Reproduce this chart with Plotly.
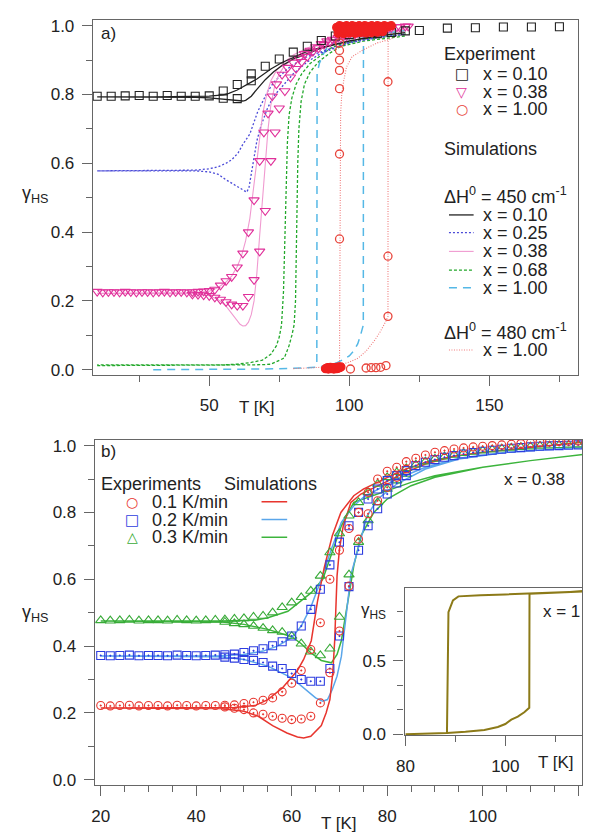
import plotly.graph_objects as go

W, H = 592, 840

# ================= Panel a data =================
# Experiment x = 0.10 (squares)
a_sq_T = [10, 15, 20, 25, 30, 35, 40, 45, 50, 55, 55, 60, 60, 65, 65, 70, 75, 80, 85, 90, 95, 100,
          105, 110, 115, 120, 125, 135, 145, 155, 165, 175]
a_sq_g = [0.795, 0.795, 0.796, 0.797, 0.795, 0.797, 0.795, 0.795, 0.796, 0.81, 0.789, 0.829, 0.788,
          0.86, 0.84, 0.882, 0.903, 0.923, 0.94, 0.957, 0.97, 0.974, 0.975, 0.977, 0.98, 0.985, 0.986,
          0.993, 0.994, 0.996, 0.996, 0.997]

# Experiment x = 0.38 (triangles), two branches
a_triL_T = [10, 12, 14, 16, 18, 20, 22, 24, 26, 28, 30, 32, 34, 36, 38, 40, 42, 44, 46, 48,
            50, 52, 54, 56, 58, 60, 62, 64, 66, 68,
            69.5, 71, 72.5, 74, 76, 78, 80, 82, 84, 86, 88, 90, 92, 94, 96, 98, 100,
            103, 106, 109, 112, 115, 118, 121]
a_triL_g = [0.227, 0.225, 0.226, 0.226, 0.225, 0.227, 0.226, 0.225, 0.226, 0.226, 0.225, 0.226, 0.227,
            0.225, 0.226, 0.226, 0.225, 0.226, 0.227, 0.228,
            0.229, 0.233, 0.245, 0.258, 0.27, 0.298, 0.338, 0.40, 0.493, 0.607,
            0.69, 0.745, 0.795, 0.83, 0.858, 0.878, 0.893, 0.905, 0.918, 0.928, 0.938, 0.947, 0.955,
            0.96, 0.965, 0.97, 0.974,
            0.979, 0.984, 0.988, 0.991, 0.994, 0.996, 0.998]
a_triR_T = [44, 46, 48, 50, 52, 54, 56, 58, 60, 62, 64, 66, 68, 70, 72,
            73.5, 75, 77, 79, 81, 83, 85, 87, 89, 91, 93, 95, 97, 99, 102, 105, 108, 111, 114, 117, 120]
a_triR_g = [0.219, 0.218, 0.217, 0.215, 0.21, 0.204, 0.197, 0.19, 0.186, 0.186, 0.212, 0.261, 0.344,
            0.462, 0.607,
            0.69, 0.76, 0.81, 0.85, 0.875, 0.895, 0.91, 0.925, 0.935, 0.945, 0.952, 0.96, 0.965, 0.97,
            0.975, 0.98, 0.985, 0.99, 0.993, 0.996, 0.998]

# Experiment x = 1.00 (circles): dense clusters at the top and bottom, points on the jumps
a_ci_top_T = [95.5, 96, 96.5, 97, 97.5, 98, 98.5, 99, 99.5, 100, 100.5, 101, 101.5, 102, 102.5, 103,
              103.5, 104, 104.5, 105, 105.5, 106, 106.5, 107, 107.5, 108, 108.5, 109, 109.5, 110,
              110.5, 111, 111.5, 112, 112.5, 113, 114, 115,
              96, 97, 98, 99, 100, 101, 102, 103, 104, 105, 106, 107, 108, 109, 110, 111, 112,
              96.5, 97.5, 98.5, 99.5, 100.5, 101.5, 102.5, 103.5, 104.5, 105.5, 106.5, 107.5, 108.5,
              109.5, 110.5, 111.5]
a_ci_top_g = [0.995, 0.99, 1.0, 0.993, 0.998, 0.99, 0.996, 1.0, 0.992, 0.997, 0.99, 1.0, 0.994, 0.998,
              0.99, 0.996, 1.0, 0.992, 0.997, 0.99, 1.0, 0.994, 0.998, 0.991, 0.996, 1.0, 0.993, 0.997,
              0.99, 1.0, 0.995, 0.998, 0.991, 0.996, 1.0, 0.994, 0.998, 1.0,
              0.978, 0.982, 0.977, 0.981, 0.979, 0.983, 0.978, 0.982, 0.98, 0.984, 0.979, 0.983, 0.98,
              0.984, 0.981, 0.985, 0.983,
              0.986, 0.985, 0.987, 0.986, 0.988, 0.986, 0.987, 0.988, 0.986, 0.989, 0.987, 0.988,
              0.989, 0.988, 0.99, 0.989]
a_ci_jump_T = [96.5, 96.5, 96.5, 96.5, 96.5, 96.5, 96.5, 113.8, 113.8, 113.8,
               100.4, 106, 107.8, 109.5, 111.2, 113.1]
a_ci_jump_g = [0.95, 0.928, 0.9, 0.87, 0.817, 0.627, 0.38, 0.837, 0.33, 0.155,
               0.002, 0.005, 0.006, 0.006, 0.007, 0.012]
a_ci_bot_T = [91.5, 92, 92.5, 93, 93.5, 94, 94.5, 95, 95.5, 96, 96.5, 97, 92.25, 93.25, 94.25, 95.25,
              96.25]
a_ci_bot_g = [0.003, 0.004, 0.002, 0.005, 0.003, 0.004, 0.002, 0.005, 0.003, 0.004, 0.006, 0.008,
              0.006, 0.007, 0.006, 0.007, 0.008]

# Simulations dH0 = 450 cm-1 (lower branch then upper branch)
s010_lo_T = [10, 30, 45, 50, 55, 58, 60, 62, 63, 65, 67, 70, 73, 76, 80, 85, 90, 100, 110, 120]
s010_lo_g = [0.793, 0.793, 0.792, 0.79, 0.787, 0.784, 0.782, 0.781, 0.783, 0.795, 0.815, 0.843, 0.866,
             0.884, 0.903, 0.92, 0.935, 0.955, 0.97, 0.98]
s010_up_T = [120, 110, 100, 90, 85, 80, 76, 72, 70, 67, 65, 62, 60, 57, 55, 50, 45, 30, 10]
s010_up_g = [0.98, 0.97, 0.956, 0.937, 0.925, 0.906, 0.893, 0.874, 0.862, 0.845, 0.836, 0.822, 0.813,
             0.803, 0.799, 0.795, 0.794, 0.793, 0.793]

s025_lo_T = [10, 45, 50, 53.2, 56, 59.2, 61.5, 63.4, 64.2, 65, 66, 67, 68.5, 70.8, 73, 75.7, 80, 85, 90,
             100, 110, 120]
s025_lo_g = [0.578, 0.578, 0.575, 0.568, 0.552, 0.536, 0.523, 0.516, 0.53, 0.57, 0.62, 0.665, 0.71, 0.76,
             0.795, 0.82, 0.86, 0.895, 0.92, 0.95, 0.965, 0.975]
s025_up_T = [120, 110, 100, 90, 85, 81.4, 78, 75.7, 73, 70.8, 69, 67.3, 66, 64.5, 62, 60.3, 58, 56, 53.2,
             50, 45, 10]
s025_up_g = [0.975, 0.966, 0.952, 0.925, 0.91, 0.894, 0.875, 0.857, 0.835, 0.808, 0.78, 0.75, 0.72,
             0.685, 0.655, 0.63, 0.61, 0.6, 0.59, 0.584, 0.58, 0.578]

s038_lo_T = [10, 45, 50, 53, 56, 58, 60, 61, 62, 63, 64, 65, 66, 67, 68, 69, 70, 71, 72, 73.5, 75, 77,
             80, 85, 90, 100, 110, 120]
s038_lo_g = [0.222, 0.221, 0.215, 0.205, 0.185, 0.165, 0.142, 0.132, 0.127, 0.128, 0.138, 0.16, 0.2,
             0.28, 0.39, 0.5, 0.61, 0.7, 0.77, 0.83, 0.86, 0.885, 0.905, 0.93, 0.948, 0.97, 0.982, 0.99]
s038_up_T = [120, 110, 100, 90, 85, 80, 77, 74, 72, 70.5, 69, 67.5, 66, 64.5, 63, 61.5, 60, 58, 56, 53,
             50, 45, 10]
s038_up_g = [0.99, 0.982, 0.97, 0.95, 0.935, 0.915, 0.895, 0.87, 0.84, 0.8, 0.74, 0.64, 0.53, 0.44,
             0.375, 0.33, 0.3, 0.272, 0.255, 0.238, 0.228, 0.224, 0.222]

s068_lo_T = [10, 55, 60, 65, 70, 72, 76.8, 78.5, 79.5, 80.3, 80.8, 81, 81.3, 81.6, 82, 82.8, 84, 86, 89,
             93, 97, 105, 120]
s068_lo_g = [0.012, 0.012, 0.013, 0.014, 0.015, 0.016, 0.034, 0.07, 0.1, 0.13, 0.2, 0.32, 0.45, 0.6,
             0.7, 0.78, 0.83, 0.865, 0.895, 0.92, 0.94, 0.955, 0.97]
s068_up_T = [120, 105, 97, 93.4, 90, 86, 83, 81, 79.5, 78.5, 77.9, 77.3, 76.8, 76.5, 75.8, 75, 74, 72,
             69, 65, 60, 55, 10]
s068_up_g = [0.975, 0.96, 0.946, 0.935, 0.915, 0.89, 0.86, 0.83, 0.79, 0.74, 0.66, 0.45, 0.32, 0.226,
             0.13, 0.095, 0.07, 0.045, 0.028, 0.021, 0.016, 0.014, 0.014]

s100_lo_T = [30, 50, 70, 80, 88.4, 92, 95.5, 98, 100, 101.5, 103, 104, 105, 105.05, 110, 120]
s100_lo_g = [0.0, 0.0, 0.002, 0.004, 0.007, 0.012, 0.02, 0.03, 0.04, 0.054, 0.075, 0.1, 0.13, 0.965,
             0.975, 0.985]
s100_up_T = [120, 110, 105, 100, 95.5, 92, 90.9, 89.3, 88.5, 88.4]
s100_up_g = [0.985, 0.977, 0.97, 0.963, 0.955, 0.935, 0.92, 0.89, 0.86, 0.007]

# Simulation dH0 = 480 cm-1, x = 1.00
s480_lo_T = [80, 90, 96.5, 100, 103, 106, 109, 111, 113, 113.8, 113.85, 120]
s480_lo_g = [0.003, 0.007, 0.014, 0.022, 0.033, 0.054, 0.085, 0.11, 0.14, 0.155, 0.975, 0.985]
s480_up_T = [120, 114.5, 110, 105, 101, 99, 98, 97.3, 96.9, 96.5]
s480_up_g = [0.985, 0.96, 0.95, 0.93, 0.91, 0.88, 0.84, 0.8, 0.745, 0.014]

# ================= Panel b data =================
b_plat_T = [20, 22, 24, 26, 28, 30, 32, 34, 36, 38, 40, 42, 44, 46, 48]
b_rise_T = [50, 52, 54, 56, 58, 60, 62, 64, 66, 68, 70, 72, 74, 76, 78, 80, 82, 84, 86, 88, 90, 92, 94,
            96, 98, 100, 102, 104, 106, 108, 110, 112, 114, 116, 118, 120]
b_dip_T = [46, 48, 50, 52, 54, 56, 58, 60, 62, 64, 66, 68, 70, 72, 74, 76, 78, 80, 82, 84]

b_red_plat = [0.222, 0.221, 0.222, 0.223, 0.221, 0.222, 0.222, 0.221, 0.223, 0.222, 0.221, 0.222, 0.222,
              0.223, 0.224]
b_red_rise = [0.228, 0.232, 0.238, 0.245, 0.263, 0.289, 0.327, 0.39, 0.47, 0.6, 0.687, 0.752, 0.8, 0.86,
              0.9, 0.923, 0.935, 0.952, 0.962, 0.972, 0.98, 0.985, 0.99, 0.993, 0.996, 0.998, 1.0, 1.002,
              1.004, 1.006, 1.008, 1.01, 1.011, 1.012, 1.013, 1.014]
b_red_dip = [0.218, 0.214, 0.21, 0.2, 0.196, 0.19, 0.184, 0.18, 0.182, 0.19, 0.23, 0.32, 0.445, 0.58,
             0.72, 0.796, 0.835, 0.875, 0.905, 0.93]

b_blu_plat = [0.372, 0.371, 0.372, 0.373, 0.371, 0.372, 0.372, 0.371, 0.373, 0.372, 0.371, 0.372, 0.373,
              0.374, 0.376]
b_blu_rise = [0.381, 0.386, 0.392, 0.401, 0.413, 0.43, 0.46, 0.51, 0.57, 0.643, 0.711, 0.76, 0.8, 0.84,
              0.87, 0.895, 0.91, 0.925, 0.94, 0.95, 0.958, 0.965, 0.97, 0.975, 0.979, 0.983, 0.986, 0.989,
              0.992, 0.994, 0.996, 0.998, 0.999, 1.0, 1.001, 1.002]
b_blu_dip = [0.367, 0.364, 0.36, 0.357, 0.351, 0.34, 0.333, 0.318, 0.3, 0.295, 0.295, 0.333, 0.43, 0.578,
             0.687, 0.76, 0.811, 0.855, 0.888, 0.91]

b_grn_plat = [0.477, 0.476, 0.477, 0.478, 0.476, 0.477, 0.477, 0.476, 0.478, 0.477, 0.476, 0.477, 0.478,
              0.479, 0.481]
b_grn_rise = [0.483, 0.487, 0.49, 0.5, 0.516, 0.53, 0.546, 0.565, 0.61, 0.68, 0.737, 0.79, 0.83, 0.86,
              0.885, 0.905, 0.92, 0.932, 0.943, 0.952, 0.96, 0.967, 0.972, 0.977, 0.981, 0.985, 0.988,
              0.991, 0.993, 0.995, 0.997, 0.999, 1.0, 1.001, 1.002, 1.003]
b_grn_dip = [0.472, 0.468, 0.465, 0.46, 0.454, 0.447, 0.442, 0.43, 0.407, 0.383, 0.372, 0.392, 0.487,
             0.614, 0.711, 0.776, 0.83, 0.87, 0.895, 0.915]

# Simulations panel b
bs_red_lo_T = [20, 45, 50, 53, 56, 59, 61.2, 62.5, 64, 66.2, 67.2, 68, 68.6, 69, 69.5, 70, 70.8, 72.4,
               74.5, 76.6, 80, 83.4, 88, 93.8, 100, 110, 121]
bs_red_lo_g = [0.215, 0.213, 0.205, 0.19, 0.162, 0.14, 0.128, 0.125, 0.13, 0.162, 0.2, 0.24, 0.32, 0.416,
               0.61, 0.69, 0.76, 0.83, 0.855, 0.87, 0.895, 0.917, 0.945, 0.967, 0.98, 0.995, 1.01]
bs_red_up_T = [121, 110, 100, 93.8, 88, 83, 78, 75, 73, 70.3, 68.5, 66.8, 65.4, 64.1, 62.5, 61.2, 58, 55,
               52.3, 48, 20]
bs_red_up_g = [1.01, 0.995, 0.98, 0.968, 0.95, 0.925, 0.89, 0.87, 0.85, 0.8, 0.73, 0.634, 0.534, 0.416,
               0.36, 0.327, 0.274, 0.24, 0.222, 0.216, 0.215]

bs_blu_lo_T = [20, 45, 50, 55, 60, 63, 65, 66.5, 67.5, 68.5, 69.5, 70.4, 71, 71.6, 72.4, 73.7, 75.8, 78,
               82, 88, 95, 105, 121]
bs_blu_lo_g = [0.37, 0.368, 0.36, 0.34, 0.305, 0.27, 0.245, 0.235, 0.24, 0.27, 0.31, 0.369, 0.44, 0.516,
               0.614, 0.68, 0.79, 0.84, 0.885, 0.93, 0.96, 0.98, 0.995]
bs_blu_up_T = [121, 105, 95, 88, 82, 78, 75, 73, 70.4, 68.3, 66.2, 64.1, 62, 60, 57, 54, 50, 45, 20]
bs_blu_up_g = [0.995, 0.98, 0.962, 0.935, 0.9, 0.87, 0.845, 0.82, 0.77, 0.69, 0.6, 0.52, 0.46, 0.425,
               0.4, 0.385, 0.375, 0.371, 0.37]

bs_grn_lo_T = [20, 45, 50, 55, 60, 62, 64, 66.2, 68.3, 69.5, 70.4, 71.3, 72.1, 73, 74.5, 77.2, 80, 85,
               90, 100, 110, 121]
bs_grn_lo_g = [0.475, 0.473, 0.465, 0.45, 0.428, 0.407, 0.38, 0.357, 0.35, 0.375, 0.416, 0.49, 0.563,
               0.64, 0.73, 0.8, 0.84, 0.88, 0.905, 0.935, 0.955, 0.973]
bs_grn_up_T = [121, 110, 100, 90, 85, 80, 76, 73, 70.4, 68.3, 66.5, 64.1, 62, 59.2, 55, 52.3, 45, 20]
bs_grn_up_g = [0.973, 0.955, 0.935, 0.91, 0.89, 0.865, 0.845, 0.83, 0.76, 0.67, 0.6, 0.56, 0.535, 0.504,
               0.485, 0.477, 0.475, 0.475]

# Inset: x = 1 simulation
ins_lo_T = [80, 85, 88.3, 92, 95.8, 98.5, 100, 101.2, 102.5, 103.8, 104.8, 104.85, 108, 112, 115.5]
ins_lo_g = [0.0, 0.004, 0.01, 0.018, 0.03, 0.05, 0.07, 0.1, 0.12, 0.15, 0.18, 0.955, 0.96, 0.966, 0.97]
ins_up_T = [115.5, 110, 104.8, 100, 95, 90.6, 89.5, 89, 88.6, 88.3]
ins_up_g = [0.97, 0.962, 0.955, 0.95, 0.945, 0.937, 0.91, 0.87, 0.83, 0.01]

# ================= Styles =================
FONT = "Liberation Sans, Arial, sans-serif"
TXT = "#222222"
AX = "#666666"

C_BLK = "#222222"
C_MAG = "#e0309a"
C_RED_A = "#e8453c"
C_RED_FILL = "#f02020"
C_PINK = "#f09ad0"
C_BLUE_DOT = "#4b4bd8"
C_GRN = "#22a82a"
C_CYAN = "#55b8e6"
C_RED_DOT = "#f07a7a"

C_RED_B = "#e8352e"
C_BLU_B = "#2d3de0"
C_BLU_LINE = "#5aa6ea"
C_GRN_B = "#38aa38"
C_GRN_LINE = "#3cb43c"
C_OLIVE = "#8c7a18"

fig = go.Figure()


def line_tr(T1, g1, T2, g2, color, width, dash, xa, ya):
    fig.add_trace(go.Scatter(x=T1 + T2, y=g1 + g2, mode="lines", xaxis=xa, yaxis=ya,
                             line=dict(color=color, width=width, dash=dash), showlegend=False,
                             hoverinfo="skip"))


def mark_tr(T, g, symbol, color, size, xa, ya, lw=1.1):
    fig.add_trace(go.Scatter(x=T, y=g, mode="markers", xaxis=xa, yaxis=ya,
                             marker=dict(symbol=symbol, size=size, color=color,
                                         line=dict(color=color, width=lw)),
                             showlegend=False, hoverinfo="skip"))


# ---- panel a ----
line_tr(s068_lo_T, s068_lo_g, s068_up_T, s068_up_g, C_GRN, 1.3, "3px,2px", "x", "y")
line_tr(s100_lo_T, s100_lo_g, s100_up_T, s100_up_g, C_CYAN, 1.5, "8px,6px", "x", "y")
line_tr(s480_lo_T, s480_lo_g, s480_up_T, s480_up_g, C_RED_DOT, 1.1, "1px,1.5px", "x", "y")
line_tr(s025_lo_T, s025_lo_g, s025_up_T, s025_up_g, C_BLUE_DOT, 1.3, "2px,2px", "x", "y")
line_tr(s038_lo_T, s038_lo_g, s038_up_T, s038_up_g, C_PINK, 1.1, "solid", "x", "y")
line_tr(s010_lo_T, s010_lo_g, s010_up_T, s010_up_g, C_BLK, 1.3, "solid", "x", "y")
mark_tr(a_triL_T, a_triL_g, "triangle-down-open", C_MAG, 9, "x", "y")
mark_tr(a_triR_T, a_triR_g, "triangle-down-open", C_MAG, 9, "x", "y")
mark_tr(a_sq_T, a_sq_g, "square-open", C_BLK, 8, "x", "y")
mark_tr(a_ci_top_T, a_ci_top_g, "circle", C_RED_FILL, 8, "x", "y", lw=1.3)
mark_tr(a_ci_bot_T, a_ci_bot_g, "circle", C_RED_FILL, 8, "x", "y", lw=1.3)
mark_tr(a_ci_jump_T, a_ci_jump_g, "circle-open", C_RED_A, 8, "x", "y", lw=1.3)

# ---- panel b ----
line_tr(bs_grn_lo_T, bs_grn_lo_g, bs_grn_up_T, bs_grn_up_g, C_GRN_LINE, 1.5, "solid", "x2", "y2")
line_tr(bs_blu_lo_T, bs_blu_lo_g, bs_blu_up_T, bs_blu_up_g, C_BLU_LINE, 1.5, "solid", "x2", "y2")
line_tr(bs_red_lo_T, bs_red_lo_g, bs_red_up_T, bs_red_up_g, C_RED_B, 1.5, "solid", "x2", "y2")
mark_tr(b_plat_T + b_rise_T, b_grn_plat + b_grn_rise, "triangle-up-open", C_GRN_B, 9, "x2", "y2")
mark_tr(b_dip_T, b_grn_dip, "triangle-up-open", C_GRN_B, 9, "x2", "y2")
mark_tr(b_plat_T + b_rise_T, b_blu_plat + b_blu_rise, "square-open-dot", C_BLU_B, 8, "x2", "y2")
mark_tr(b_dip_T, b_blu_dip, "square-open-dot", C_BLU_B, 8, "x2", "y2")
mark_tr(b_plat_T + b_rise_T, b_red_plat + b_red_rise, "circle-open-dot", C_RED_B, 8, "x2", "y2")
mark_tr(b_dip_T, b_red_dip, "circle-open-dot", C_RED_B, 8, "x2", "y2")

# ---- inset ----
line_tr(ins_lo_T, ins_lo_g, ins_up_T, ins_up_g, C_OLIVE, 2.0, "solid", "x3", "y3")


def px(x):
    return x / W


def py(y):
    return 1 - y / H


def axis(domain, rng, tickvals, ticktext, minor_dtick, anchor, standoff=4):
    return dict(domain=domain, range=rng, anchor=anchor, showgrid=False, zeroline=False,
                showline=True, linecolor=AX, linewidth=1.2, mirror=True,
                ticks="outside", ticklen=10, tickwidth=1.2, tickcolor=AX,
                tickvals=tickvals, ticktext=ticktext,
                tickfont=dict(family=FONT, size=17, color=TXT),
                ticklabelstandoff=standoff,
                minor=dict(dtick=minor_dtick, tick0=0, ticks="outside", ticklen=6,
                           tickwidth=1.2, tickcolor=AX, showgrid=False))


ylab = ["0.0", "0.2", "0.4", "0.6", "0.8", "1.0"]
yv = [0, 0.2, 0.4, 0.6, 0.8, 1.0]

layout = dict(
    width=W, height=H, margin=dict(l=0, r=0, t=0, b=0),
    paper_bgcolor="white", plot_bgcolor="white", showlegend=False,
    xaxis=axis([px(86), px(578)], [8.45, 181.7], [50, 100, 150], ["50", "100", "150"], 25, "y",
               standoff=5),
    yaxis=axis([py(377), py(17)], [-0.0143, 1.0172], yv, ylab, 0.1, "x"),
    xaxis2=axis([px(88), px(582)], [18.76, 120.83], [20, 40, 60, 80, 100, 120],
                ["20", "40", "60", "80", "100", "120"], 5, "y2", standoff=6),
    yaxis2=axis([py(793), py(443)], [-0.0147, 1.0177], yv, ylab, 0.1, "x2"),
    xaxis3=axis([px(402), px(582)], [79.8, 115.4], [80, 100], ["80", "100"], 10, "y3", standoff=5),
    yaxis3=axis([py(743), py(593)], [-0.007, 0.997], [0, 0.5], ["0.0", "0.5"], 1 / 6, "x3"),
)
fig.update_layout(**layout)

anns = []


def ann(text, x, y, size=17, color=TXT, xanchor="left", family=FONT):
    anns.append(dict(text=text, x=px(x), y=py(y), xref="paper", yref="paper", showarrow=False,
                     xanchor=xanchor, yanchor="middle", borderpad=0,
                     font=dict(family=family, size=size, color=color)))


GAM = "γ<sub>HS</sub>"
SYM = "DejaVu Sans"

# panel labels and axis titles
ann("a)", 93, 31)
ann("b)", 93, 455)
ann(GAM, 28, 194, size=18, xanchor="center")
ann(GAM, 28, 619, size=18, xanchor="center")
ann(GAM, 370, 617, size=17, xanchor="center")
ann("T [K]", 252, 410, xanchor="center")
ann("T [K]", 336, 832, xanchor="center")
ann("T [K]", 555, 770, xanchor="center")
ann("x = 0.38", 502, 483)
ann("x = 1", 541, 617)

# panel a legend
ann("Experiment", 441, 52, size=18)
ann("□", 460, 72, size=15, color=C_BLK, xanchor="center", family=SYM)
ann("▽", 460, 90, size=14, color=C_MAG, xanchor="center", family=SYM)
ann("○", 460, 108, size=14, color=C_RED_A, xanchor="center", family=SYM)
ann("x = 0.10", 480, 72, size=18)
ann("x = 0.38", 480, 90, size=18)
ann("x = 1.00", 480, 108, size=18)
ann("Simulations", 441, 148, size=18)
ann("ΔH<sup>0</sup> = 450 cm<sup>-1</sup>", 441, 195, size=18)
sim_rows = [(215, C_BLK, "solid", 1.3, "x = 0.10"), (233, C_BLUE_DOT, "2px,2px", 1.3, "x = 0.25"),
            (252, C_PINK, "solid", 1.1, "x = 0.38"), (271, C_GRN, "3px,2px", 1.3, "x = 0.68"),
            (289, C_CYAN, "8px,6px", 1.5, "x = 1.00")]
shapes = []
for yy, col, dsh, wd, lab in sim_rows:
    shapes.append(dict(type="line", xref="paper", yref="paper", x0=px(447), x1=px(472),
                       y0=py(yy), y1=py(yy), line=dict(color=col, width=wd, dash=dsh)))
    ann(lab, 480, yy, size=18)
ann("ΔH<sup>0</sup> = 480 cm<sup>-1</sup>", 441, 333, size=18)
shapes.append(dict(type="line", xref="paper", yref="paper", x0=px(447), x1=px(472),
                   y0=py(352), y1=py(352), line=dict(color=C_RED_DOT, width=1.1, dash="1px,1.5px")))
ann("x = 1.00", 480, 352, size=18)

# panel b legend
ann("Experiments", 93, 488, size=18)
ann("Simulations", 218, 488, size=18)
ann("○", 126, 506, size=14, color=C_RED_B, xanchor="center", family=SYM)
ann("□", 126, 524, size=15, color=C_BLU_B, xanchor="center", family=SYM)
ann("△", 126, 542, size=14, color=C_GRN_B, xanchor="center", family=SYM)
ann("0.1 K/min", 145, 506, size=18)
ann("0.2 K/min", 145, 524, size=18)
ann("0.3 K/min", 145, 542, size=18)
for yy, col in [(506, C_RED_B), (524, C_BLU_LINE), (542, C_GRN_LINE)]:
    shapes.append(dict(type="line", xref="paper", yref="paper", x0=px(257), x1=px(283),
                       y0=py(yy), y1=py(yy), line=dict(color=col, width=1.5)))

fig.update_layout(annotations=anns, shapes=shapes)
fig.write_html("out.html")
